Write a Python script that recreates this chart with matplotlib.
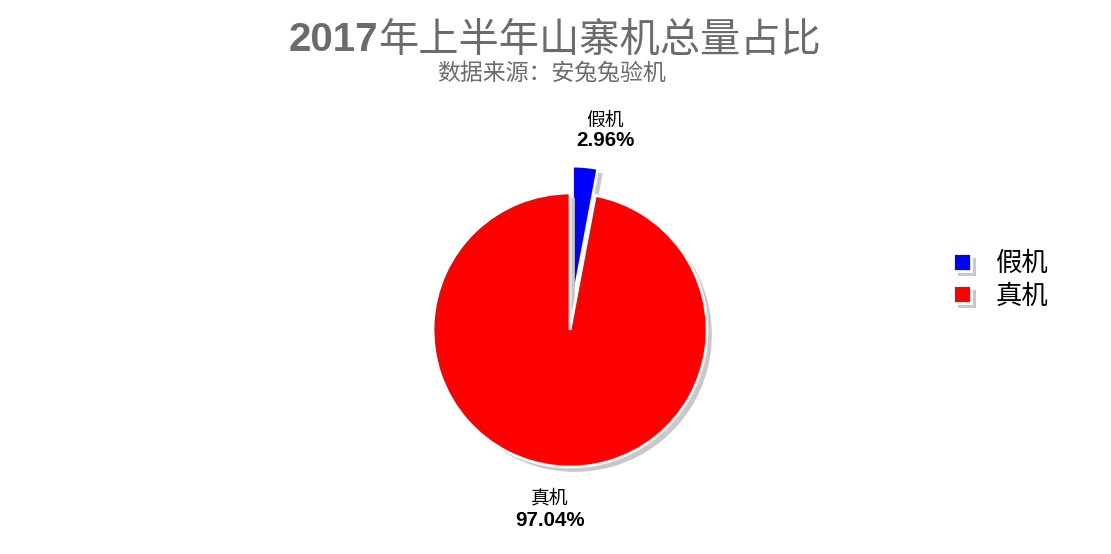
import matplotlib
matplotlib.use("Agg")
import matplotlib.pyplot as plt
import matplotlib.patheffects as pe
import numpy as np

# ---- data ----
categories = ["假机", "真机"]
shares = [2.96, 97.04]
colors = ["#0000ff", "#ff0000"]
title_num = "2017"
title_rest = "年上半年山寨机总量占比"
subtitle = "数据来源：安兔兔验机"

W, H = 1111, 554
fig = plt.figure(figsize=(W / 100, H / 100), dpi=100)
ax = fig.add_axes([0, 0, 1, 1])

CJK = ["Noto Sans CJK SC", "DejaVu Sans"]
LAT = ["Liberation Sans", "Noto Sans CJK SC"]

cx, cy = 570, H - 330
radius = 137
shadow = [pe.SimplePatchShadow(offset=(3.5, -3.5), shadow_rgbFace="#c8c8c8", alpha=1.0), pe.Normal()]

wedges, _ = ax.pie(shares, colors=colors, startangle=90, counterclock=False,
                   center=(cx, cy), radius=radius, explode=[27, 0],
                   wedgeprops=dict(edgecolor="white", linewidth=2, path_effects=shadow),
                   frame=False)
ax.set_xlim(0, W)
ax.set_ylim(0, H)
ax.set_aspect("equal")
ax.axis("off")

# data labels
label_pos = [(605, H - 120, H - 141), (550, H - 498, H - 520)]
for (lx, ny, py), cat, val in zip(label_pos, categories, shares):
    ax.text(lx, ny, cat, ha="center", va="center", fontsize=13.5, family=CJK, color="black")
    ax.text(lx, py, f"{val:.2f}%", ha="center", va="center", fontsize=14.8,
            family=LAT, fontweight="bold", color="black")

# legend
leg = ax.legend(wedges, categories, loc="center left",
                bbox_to_anchor=(953 / W, 1 - 280 / H), bbox_transform=fig.transFigure,
                frameon=False, prop=dict(family=CJK, size=19),
                handlelength=0.68, handleheight=0.66, handletextpad=0.92,
                labelspacing=0.2, borderpad=0, borderaxespad=0)

# title: bold digits + regular CJK, centered as a whole
renderer = fig.canvas.get_renderer()
tcol = "#6b6b6b"
t1 = fig.text(0, 0, title_num, fontsize=29, fontweight="bold", family=LAT, color=tcol,
              va="center", ha="left")
t2 = fig.text(0, 0, title_rest, fontsize=29, family=CJK, color=tcol, va="center", ha="left")
w1 = t1.get_window_extent(renderer).width
w2 = t2.get_window_extent(renderer).width
x0 = 555 - (w1 + w2) / 2
ty = 1 - 40 / H
t1.set_position((x0 / W, ty))
t2.set_position(((x0 + w1) / W, ty))

fig.text(552 / W, 1 - 73 / H, subtitle, fontsize=16.5, family=CJK, color="#6b6b6b",
         ha="center", va="center")

fig.savefig("out.png", dpi=100, facecolor="white")
